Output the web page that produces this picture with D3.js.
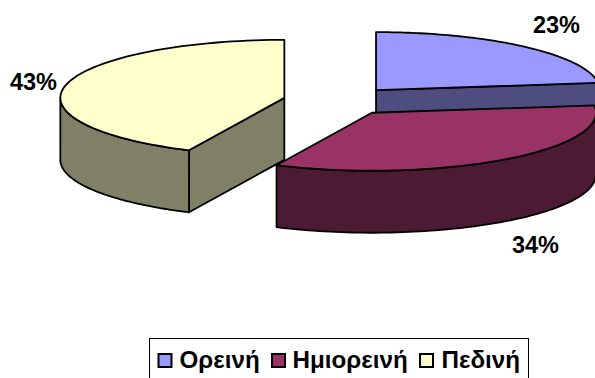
<!DOCTYPE html>
<html>
<head>
<meta charset="utf-8">
<script src="https://cdn.jsdelivr.net/npm/d3@7"></script>
<style>
html, body { margin: 0; padding: 0; background: #fff; overflow: hidden; }
svg { display: block; }
text { font-family: "Liberation Sans", Arial, sans-serif; font-weight: bold; fill: #000; }
</style>
</head>
<body>
<div id="chart"></div>
<script>
const categories = ["Ορεινή", "Ημιορεινή", "Πεδινή"];
const values = [23, 34, 43];
const labels = ["23%", "34%", "43%"];
const topColors = ["#9999ff", "#993366", "#ffffcc"];
const sideColors = ["#4d4d80", "#4d1a33", "#808066"];

const width = 595;
const height = 378;
const cx = 339, cy = 101;
const rx = 224, ry = 58;
const depth = 62;
const explode = 0.25;

const svg = d3.select("#chart")
    .append("svg")
    .attr("width", width)
    .attr("height", height);

const xScale = d3.scaleLinear().domain([-1, 1]).range([cx - rx, cx + rx]);
const yScale = d3.scaleLinear().domain([-1, 1]).range([cy + ry, cy - ry]);

const slices = d3.pie().sort(null).value(d => d)(values);

// point on the tilted disc, a = clockwise from 12 o'clock
function project(s, a, r, drop) {
    const mid = (s.startAngle + s.endAngle) / 2;
    const ux = explode * Math.sin(mid) + r * Math.sin(a);
    const uy = explode * Math.cos(mid) + r * Math.cos(a);
    return [xScale(ux), yScale(uy) + drop];
}

function arcPoints(s, a0, a1, drop) {
    const n = 80;
    return d3.range(n + 1).map(i => project(s, a0 + (a1 - a0) * i / n, 1, drop));
}

const line = d3.line();
const closed = pts => line(pts) + "Z";

function drawFace(d, fill) {
    svg.append("path")
        .attr("d", d)
        .attr("fill", fill)
        .attr("stroke", "#000")
        .attr("stroke-width", 1.8)
        .attr("stroke-linejoin", "round");
}

// back to front
[0, 2, 1].forEach(i => {
    const s = slices[i];
    const c0 = project(s, 0, 0, 0);
    const c1 = project(s, 0, 0, depth);
    const e0 = project(s, s.startAngle, 1, 0);
    const e1 = project(s, s.startAngle, 1, depth);
    const f0 = project(s, s.endAngle, 1, 0);
    const f1 = project(s, s.endAngle, 1, depth);

    // cut faces, only when they turn toward the viewer
    if (s.endAngle < Math.PI / 2) {
        drawFace(closed([c0, f0, f1, c1]), sideColors[i]);
    }
    if (s.startAngle > Math.PI && s.startAngle < 1.5 * Math.PI) {
        drawFace(closed([c0, e0, e1, c1]), sideColors[i]);
    }

    // outer wall on the front half of the rim
    const a0 = Math.max(s.startAngle, Math.PI / 2);
    const a1 = Math.min(s.endAngle, 1.5 * Math.PI);
    if (a1 > a0) {
        const upper = arcPoints(s, a0, a1, 0);
        const lower = arcPoints(s, a1, a0, depth);
        drawFace(closed(upper.concat(lower)), sideColors[i]);
    }

    // top
    drawFace(closed([c0].concat(arcPoints(s, s.startAngle, s.endAngle, 0))), topColors[i]);
});

// percent labels
const labelX = [556.5, 535.5, 33.5];
const labelY = [33, 253, 90];
svg.selectAll("text.pct")
    .data(labels)
    .enter()
    .append("text")
    .attr("class", "pct")
    .attr("x", (d, i) => labelX[i])
    .attr("y", (d, i) => labelY[i])
    .attr("text-anchor", "middle")
    .attr("font-size", 23.5)
    .text(d => d);

// legend, its bottom edge falls outside the picture
svg.append("rect")
    .attr("x", 149.5)
    .attr("y", 338.5)
    .attr("width", 379)
    .attr("height", 60)
    .attr("fill", "#fff")
    .attr("stroke", "#000")
    .attr("stroke-width", 1);

const markerX = [158.5, 272, 420];
const textX = [179.5, 292.5, 441.5];
const legend = svg.selectAll("g.legend")
    .data(categories)
    .enter()
    .append("g")
    .attr("class", "legend");

legend.append("rect")
    .attr("x", (d, i) => markerX[i])
    .attr("y", 354)
    .attr("width", 13)
    .attr("height", 13)
    .attr("fill", (d, i) => topColors[i])
    .attr("stroke", "#000")
    .attr("stroke-width", 2);

legend.append("text")
    .attr("x", (d, i) => textX[i])
    .attr("y", 368)
    .attr("font-size", 24.2)
    .text(d => d);
</script>
</body>
</html>
